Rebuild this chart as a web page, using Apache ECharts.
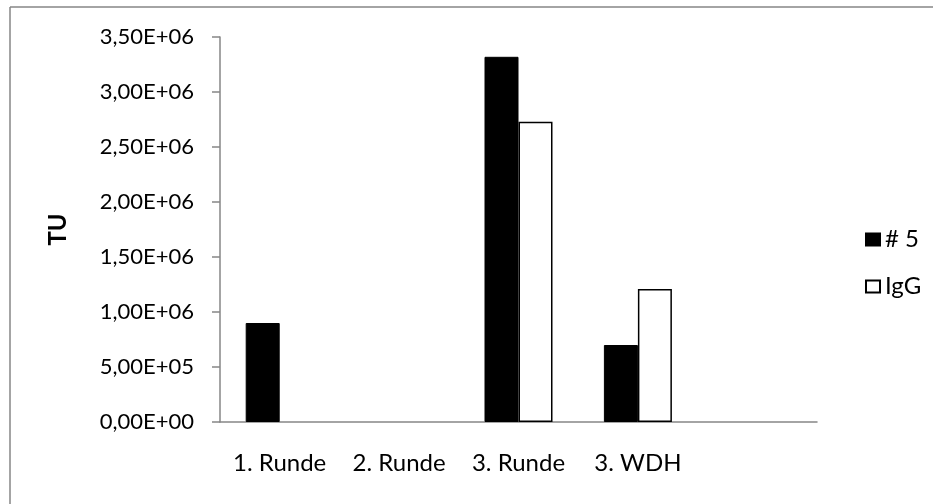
<!DOCTYPE html>
<html>
<head>
<meta charset="utf-8">
<script src="https://cdn.jsdelivr.net/npm/echarts@6/dist/echarts.min.js"></script>
<style>
  html, body { margin: 0; padding: 0; background: #fff; }
  #chart { width: 933px; height: 504px; }
</style>
</head>
<body>
<div id="chart"></div>
<script>
// Rounds of the experiment (last slot is an empty spacer band)
const categories = ['1. Runde', '2. Runde', '3. Runde', '3. WDH', ''];
// Titer values (TU) per round
const seriesNames = ['# 5', 'IgG'];
const valuesNr5 = [9.0e5, null, 3.32e6, 7.0e5, null];
const valuesIgG = [null, null, 2.73e6, 1.21e6, null];
// Y axis range and step
const yMin = 0;
const yMax = 3.5e6;
const yStep = 5e5;

const FONT = 'Lato';
const AXIS_GREY = '#868686';

// Excel-like scientific label: 3,50E+06
function sci(v) {
  if (v === 0) return '0,00E+00';
  const exp = Math.floor(Math.log10(Math.abs(v)));
  const mant = v / Math.pow(10, exp);
  const e = (exp < 0 ? '-' : '+') + String(Math.abs(exp)).padStart(2, '0');
  return mant.toFixed(2).replace('.', ',') + 'E' + e;
}

const chart = echarts.init(document.getElementById('chart'), null, { renderer: 'canvas' });

chart.setOption({
  animation: false,
  backgroundColor: '#ffffff',
  textStyle: { fontFamily: FONT, color: '#000' },
  graphic: [
    { type: 'line', shape: { x1: 10, y1: 7, x2: 10, y2: 504 }, style: { stroke: AXIS_GREY, lineWidth: 1.5 }, silent: true },
    { type: 'line', shape: { x1: 10, y1: 7, x2: 933, y2: 7 }, style: { stroke: AXIS_GREY, lineWidth: 1.5 }, silent: true }
  ],
  grid: { left: 220, right: 116, top: 37, height: 385, containLabel: false },
  legend: {
    orient: 'vertical',
    left: 860,
    top: 222,
    itemWidth: 14,
    itemHeight: 12,
    itemGap: 22,
    icon: 'rect',
    textStyle: { fontFamily: FONT, fontSize: 24, color: '#000', lineHeight: 25 },
    data: seriesNames
  },
  xAxis: {
    type: 'category',
    data: categories,
    axisLine: { show: true, lineStyle: { color: AXIS_GREY, width: 1.5 } },
    axisTick: { show: false },
    axisLabel: { fontFamily: FONT, fontSize: 24, color: '#000', margin: 29, interval: 0 },
    splitLine: { show: false }
  },
  yAxis: {
    type: 'value',
    min: yMin,
    max: yMax,
    interval: yStep,
    name: 'TU',
    nameLocation: 'middle',
    nameGap: 150,
    nameTextStyle: { fontFamily: FONT, fontSize: 24, fontWeight: 'bold', color: '#000' },
    axisLine: { show: true, lineStyle: { color: AXIS_GREY, width: 1.5 } },
    axisTick: { show: true, inside: false, length: 8, lineStyle: { color: AXIS_GREY, width: 1.5 } },
    axisLabel: { fontFamily: FONT, fontSize: 22, color: '#000', margin: 26, formatter: sci },
    splitLine: { show: false }
  },
  series: [
    {
      name: seriesNames[0],
      type: 'bar',
      data: valuesNr5,
      barWidth: 34,
      barGap: '0%',
      itemStyle: { color: '#000000', borderColor: '#000000', borderWidth: 1 }
    },
    {
      name: seriesNames[1],
      type: 'bar',
      data: valuesIgG,
      barWidth: 34,
      barGap: '0%',
      itemStyle: { color: '#ffffff', borderColor: '#000000', borderWidth: 1.5 }
    }
  ]
});
</script>
</body>
</html>
